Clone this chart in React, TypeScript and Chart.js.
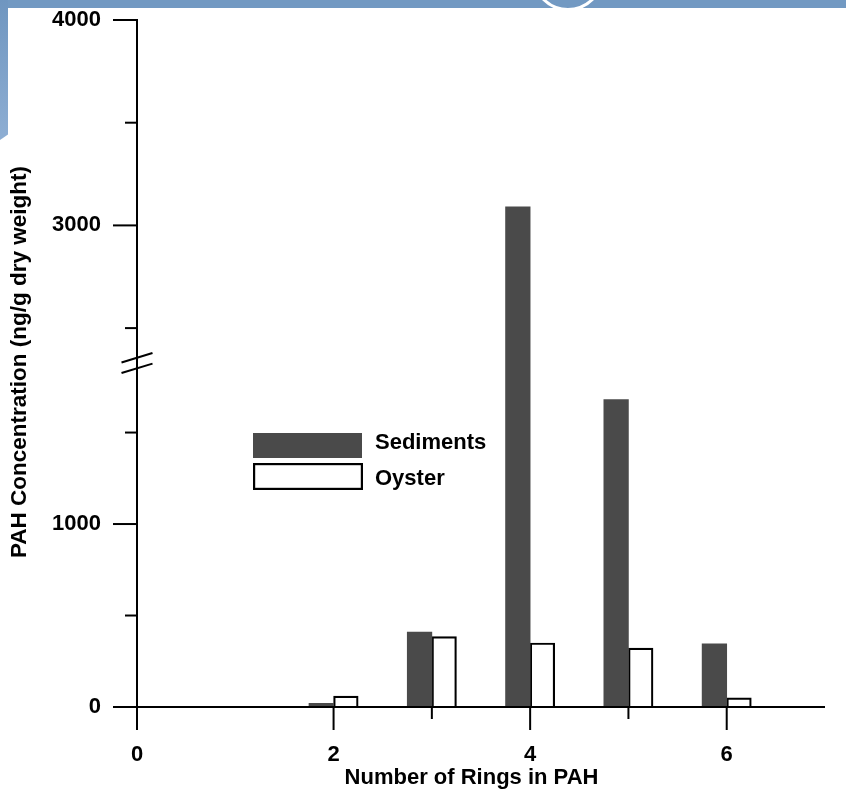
import React, { useEffect, useRef } from 'react';
import { Chart, registerables, LinearScale } from 'chart.js';

Chart.register(...registerables);

// ---- data ----
const rings = [2, 3, 4, 5, 6];
const sediments = [20, 410, 3090, 1680, 345];
const oyster = [60, 385, 350, 322, 50];
const seriesLabels = ['Sediments', 'Oyster'];
const yMajorTicks = [0, 1000, 3000, 4000];
const yMinorTicks = [500, 1500, 2500, 3500];
const xMajorTicks = [0, 2, 4, 6];
const xMinorTicks = [3, 5];
const yTitle = 'PAH Concentration (ng/g dry weight)';
const xTitle = 'Number of Rings in PAH';

// axis break (value gap hidden by the break marks)
const BREAK_LOW = 1880;
const BREAK_HIGH = 2330;
const BREAK_FRAC = 0.5007;

const FONT = "'Liberation Sans', Arial, sans-serif";
const SED_COLOR = '#4a4a4a';

class BrokenScale extends LinearScale {
  static id = 'broken';
  static defaults = LinearScale.defaults;
  buildTicks() {
    // @ts-ignore
    this.start = this.min;
    // @ts-ignore
    this.end = this.max;
    return [...yMajorTicks, ...yMinorTicks].sort((a, b) => a - b).map((v) => ({ value: v }));
  }
  getPixelForValue(value: number) {
    if (value === null || value === undefined || isNaN(value)) return NaN;
    // @ts-ignore
    const b = this.bottom, t = this.top, max = this.max;
    const mid = b + (t - b) * BREAK_FRAC;
    if (value <= BREAK_LOW) return b + (mid - b) * (value / BREAK_LOW);
    if (value < BREAK_HIGH) return mid;
    return mid + (t - mid) * ((value - BREAK_HIGH) / (max - BREAK_HIGH));
  }
  getValueForPixel(pixel: number) {
    // @ts-ignore
    const b = this.bottom, t = this.top, max = this.max;
    const mid = b + (t - b) * BREAK_FRAC;
    if (pixel >= mid) return ((b - pixel) / (b - mid)) * BREAK_LOW;
    return BREAK_HIGH + ((mid - pixel) / (mid - t)) * (max - BREAK_HIGH);
  }
}
Chart.register(BrokenScale as any);

const axesPlugin = {
  id: 'customAxes',
  afterDatasetsDraw(chart: any) {
    const { ctx } = chart;
    const x = chart.scales.x;
    const y = chart.scales.y;
    const x0 = x.getPixelForValue(0);
    const y0 = y.getPixelForValue(0);
    const line = (a: number, b: number, c: number, d: number) => {
      ctx.beginPath();
      ctx.moveTo(a, b);
      ctx.lineTo(c, d);
      ctx.stroke();
    };
    ctx.save();
    ctx.strokeStyle = '#000';
    ctx.lineWidth = 2;
    ctx.lineCap = 'butt';
    // y axis
    line(x0, y.getPixelForValue(4000) - 1, x0, y0);
    yMajorTicks.forEach((v) => {
      const p = y.getPixelForValue(v);
      line(x0 - 24, p, x0, p);
    });
    yMinorTicks.forEach((v) => {
      const p = y.getPixelForValue(v);
      line(x0 - 12, p, x0, p);
    });
    // x axis
    line(x0, y0, x.getPixelForValue(7), y0);
    xMajorTicks.forEach((v) => {
      const p = x.getPixelForValue(v);
      line(p, y0, p, y0 + 23);
    });
    xMinorTicks.forEach((v) => {
      const p = x.getPixelForValue(v);
      line(p, y0, p, y0 + 12);
    });
    // break marks
    const yb = y.getPixelForValue(BREAK_LOW);
    [-5.3, 5.3].forEach((k) => {
      line(x0 - 15.5, yb + k + 4.7, x0 + 15.5, yb + k - 4.7);
    });

    // legend
    ctx.fillStyle = SED_COLOR;
    ctx.fillRect(253, 433, 109, 25);
    ctx.fillStyle = '#fff';
    ctx.fillRect(254, 464, 107, 25);
    ctx.lineWidth = 2.2;
    ctx.strokeRect(254.1, 464.1, 107.8, 24.8);
    ctx.fillStyle = '#000';
    ctx.font = `bold 22px ${FONT}`;
    ctx.textAlign = 'left';
    ctx.textBaseline = 'alphabetic';
    ctx.fillText(seriesLabels[0], 375, 449);
    ctx.fillText(seriesLabels[1], 375, 485);

    // axis titles
    ctx.textAlign = 'center';
    ctx.textBaseline = 'middle';
    ctx.font = `bold 22px ${FONT}`;
    ctx.fillText(xTitle, 471.5, 778);
    ctx.save();
    ctx.translate(20, 362);
    ctx.rotate(-Math.PI / 2);
    ctx.font = `bold 22.5px ${FONT}`;
    ctx.fillText(yTitle, 0, 0);
    ctx.restore();
    ctx.restore();
  },
};

export default function App() {
  const ref = useRef<HTMLCanvasElement | null>(null);
  useEffect(() => {
    if (!ref.current) return;
    const chart = new Chart(ref.current, {
      type: 'bar',
      data: {
        datasets: [
          {
            label: seriesLabels[0],
            data: rings.map((r, i) => ({ x: r, y: sediments[i] })),
            backgroundColor: SED_COLOR,
            borderWidth: 0,
            barThickness: 24.6,
          },
          {
            label: seriesLabels[1],
            data: rings.map((r, i) => ({ x: r, y: oyster[i] })),
            backgroundColor: '#ffffff',
            borderColor: '#000000',
            borderWidth: 2.2,
            barThickness: 24.6,
          },
        ],
      },
      options: {
        animation: false,
        responsive: false,
        maintainAspectRatio: false,
        layout: { padding: { top: 20, right: 21, left: 0, bottom: 0 } },
        plugins: { legend: { display: false }, tooltip: { enabled: false } },
        scales: {
          x: {
            type: 'linear',
            min: 0,
            max: 7,
            offset: false,
            grid: {
              display: true,
              drawOnChartArea: false,
              drawTicks: true,
              tickLength: 35,
              tickColor: 'rgba(0,0,0,0)',
              offset: false,
            },
            border: { display: false },
            ticks: {
              stepSize: 1,
              autoSkip: false,
              maxRotation: 0,
              padding: 0,
              color: '#000',
              font: { family: FONT, size: 22, weight: 'bold' },
              callback: (v: any) => (xMajorTicks.includes(Number(v)) ? String(v) : ''),
            },
            afterFit: (s: any) => {
              s.height = 83;
            },
          },
          y: {
            type: 'broken' as any,
            min: 0,
            max: 4000,
            grid: {
              display: true,
              drawOnChartArea: false,
              drawTicks: true,
              tickLength: 36,
              tickColor: 'rgba(0,0,0,0)',
            },
            border: { display: false },
            ticks: {
              autoSkip: false,
              padding: 0,
              color: '#000',
              font: { family: FONT, size: 22, weight: 'bold' },
              callback: (v: any) => (yMajorTicks.includes(Number(v)) ? String(v) : ''),
            },
            afterFit: (s: any) => {
              s.width = 137;
            },
          },
        },
      } as any,
      plugins: [axesPlugin],
    });
    return () => chart.destroy();
  }, []);

  return (
    <div style={{ position: 'fixed', left: 0, top: 0, width: 846, height: 790, background: '#fff', overflow: 'hidden' }}>
      <canvas ref={ref} width={846} height={790} style={{ position: 'absolute', left: 0, top: 0, width: 846, height: 790 }} />
      <div style={{ position: 'absolute', left: 0, top: 0, width: 846, height: 7.5, background: '#7299c2' }} />
      <div
        style={{
          position: 'absolute',
          left: 0,
          top: 0,
          width: 8,
          height: 140,
          background: 'linear-gradient(#6f96c0, #8eaed3)',
          clipPath: 'polygon(0 0, 100% 0, 100% 96%, 0 100%)',
        }}
      />
      <div
        style={{
          position: 'absolute',
          left: 532,
          top: -61,
          width: 66,
          height: 66,
          borderRadius: '50%',
          border: '3px solid #fff',
          background: '#7299c2',
        }}
      />
    </div>
  );
}
